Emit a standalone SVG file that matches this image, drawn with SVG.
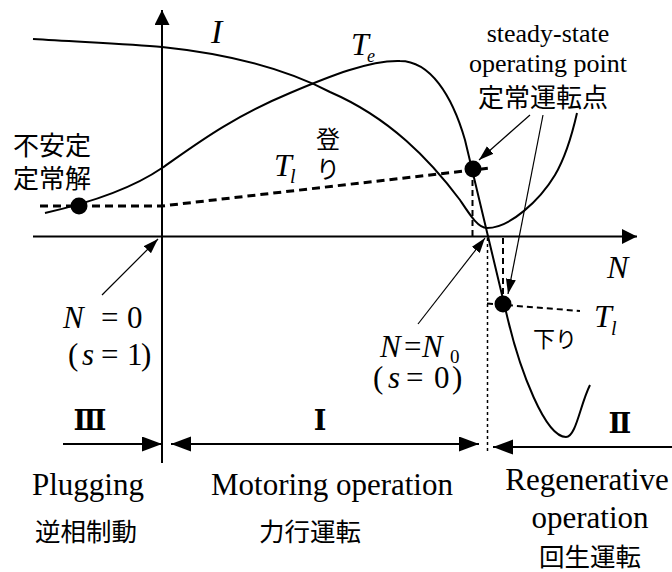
<svg xmlns="http://www.w3.org/2000/svg" width="672" height="572" viewBox="0 0 672 572">
<defs>
<style>
.ser{font-family:"Liberation Serif","Times New Roman",serif;fill:#000}
.it{font-style:italic}
.jp{font-family:"Noto Sans CJK JP","Noto Sans CJK SC",sans-serif;fill:#000}
.rn{font-family:"DejaVu Serif","Liberation Serif",serif;fill:#000;font-weight:bold}
.curve{fill:none;stroke:#000;stroke-width:2}
.axis{fill:none;stroke:#000;stroke-width:2}
.thin{fill:none;stroke:#000;stroke-width:1.2}
.dash3{fill:none;stroke:#000;stroke-width:3;stroke-dasharray:8 5}
.dash2{fill:none;stroke:#000;stroke-width:2;stroke-dasharray:6 4}
.dotl{fill:none;stroke:#000;stroke-width:1.5;stroke-dasharray:3 3}
.pt{fill:#000}
</style>
<marker id="ah" markerUnits="userSpaceOnUse" markerWidth="16" markerHeight="12" refX="15" refY="5" orient="auto"><path d="M0,0 L15,5 L0,10 z"/></marker>
<marker id="ax" markerUnits="userSpaceOnUse" markerWidth="16" markerHeight="16" refX="15" refY="7.5" orient="auto"><path d="M0,0 L15,7.5 L0,15 z"/></marker>
<marker id="big" markerUnits="userSpaceOnUse" markerWidth="21" markerHeight="16" refX="20" refY="7.5" orient="auto-start-reverse"><path d="M0,0 L20,7.5 L0,15 z"/></marker>
</defs>
<rect width="672" height="572" fill="#fff"/>

<g id="axes">
<line class="axis" x1="162" y1="463" x2="162" y2="10" marker-end="url(#ax)"/>
<line class="axis" x1="33" y1="236.5" x2="637" y2="236.5" marker-end="url(#ax)"/>
</g>

<g id="curves">
<path id="curve-I" class="curve" d="M33,39 C80,42 130,44 162,47 C220,53 280,66 330,92 C390,118 430,160 460,200 C470,215 478,228 487,228 C510,228 540,200 555,175 C565,158 572,135 577,113"/>
<path id="curve-Te" class="curve" d="M45,213 C80,205 130,190 162,168 C195,145 230,118 290,93 C330,76 370,60 400,61 C430,61 452,95 465,140 L508,320 C520,370 545,437 566,437 C576,437 580,405 590,385"/>
<path id="load-up" class="dash3" d="M40,206 L162,206 L490,168"/>
<path id="load-down" class="dash2" d="M487,303.5 L580,311"/>
<line class="dash2" x1="472.5" y1="170" x2="472.5" y2="236"/>
<line class="dash2" x1="503" y1="238" x2="503" y2="303"/>
<line class="dotl" x1="487.5" y1="238" x2="487.5" y2="452"/>
<circle class="pt" cx="79" cy="206" r="8.5"/>
<circle class="pt" cx="473" cy="169" r="8.5"/>
<circle class="pt" cx="503" cy="304" r="8.5"/>
</g>

<g id="connectors">
<line class="thin" x1="530" y1="115" x2="479" y2="160" marker-end="url(#ah)"/>
<line class="thin" x1="543" y1="115" x2="508" y2="294" marker-end="url(#ah)"/>
<line class="thin" x1="418" y1="324" x2="485" y2="238" marker-end="url(#ah)"/>
<line class="thin" x1="102" y1="295" x2="158" y2="239" marker-end="url(#ah)"/>
<line class="axis" x1="63" y1="444" x2="162" y2="444" marker-end="url(#big)"/>
<line class="axis" x1="171" y1="444" x2="479" y2="444" marker-start="url(#big)" marker-end="url(#big)"/>
<line class="axis" x1="672" y1="447" x2="493" y2="447" marker-end="url(#big)"/>
</g>

<g id="label-I"><text class="ser it" x="211" y="43" font-size="34">I</text></g>
<g id="label-Te"><text class="ser it" font-size="32"><tspan x="351" y="55">T</tspan><tspan x="367" y="62" font-size="18">e</tspan></text></g>
<g id="label-Tl-up"><text class="ser it" font-size="32"><tspan x="274" y="176">T</tspan><tspan x="290" y="183" font-size="20">l</tspan></text></g>
<g id="label-Tl-down"><text class="ser it" font-size="32"><tspan x="594" y="327">T</tspan><tspan x="611" y="335" font-size="20">l</tspan></text></g>
<g id="label-N"><text class="ser it" x="607" y="278" font-size="32">N</text></g>

<g id="label-unstable">
<text class="jp" x="13" y="155" font-size="26">不安定</text>
<text class="jp" x="13" y="188" font-size="26">定常解</text>
</g>
<g id="label-up"><text class="jp" x="328" y="148" font-size="24" text-anchor="middle">登</text><text class="jp" x="328" y="178" font-size="24" text-anchor="middle">り</text></g>
<g id="label-down"><text class="jp" x="533" y="347" font-size="22">下り</text></g>

<g id="label-steady">
<text class="ser" x="548" y="42" font-size="26" text-anchor="middle">steady-state</text>
<text class="ser" x="548" y="72" font-size="26" text-anchor="middle">operating point</text>
<text class="jp" x="543" y="107" font-size="26" text-anchor="middle">定常運転点</text>
</g>

<g id="label-N0">
<text class="ser" font-size="31"><tspan x="63" y="328" font-style="italic">N</tspan><tspan x="101" y="328">=</tspan><tspan x="127" y="328">0</tspan></text>
<text class="ser" font-size="31"><tspan x="68" y="365">(</tspan><tspan x="82" y="365" font-style="italic">s</tspan><tspan x="101" y="365">=</tspan><tspan x="127" y="365">1</tspan><tspan x="141" y="365">)</tspan></text>
</g>

<g id="label-NN0">
<text class="ser" font-size="31"><tspan x="380" y="357" font-style="italic">N</tspan><tspan x="404" y="357">=</tspan><tspan x="422" y="357" font-style="italic">N</tspan><tspan x="450" y="363" font-size="19">0</tspan></text>
<text class="ser" font-size="31"><tspan x="373" y="388">(</tspan><tspan x="388" y="388" font-style="italic">s</tspan><tspan x="406" y="388">=</tspan><tspan x="434" y="388">0</tspan><tspan x="452" y="388">)</tspan></text>
</g>

<g id="region-III">
<text class="rn" x="90" y="430" font-size="27" text-anchor="middle">Ⅲ</text>
<text class="ser" x="88" y="495" font-size="31" text-anchor="middle">Plugging</text>
<text class="jp" x="86" y="541" font-size="25.5" text-anchor="middle">逆相制動</text>
</g>
<g id="region-I">
<text class="rn" x="320" y="430" font-size="27" text-anchor="middle">Ⅰ</text>
<text class="ser" x="332" y="495" font-size="31" text-anchor="middle">Motoring operation</text>
<text class="jp" x="310" y="541" font-size="25.5" text-anchor="middle">力行運転</text>
</g>
<g id="region-II">
<text class="rn" x="620" y="433" font-size="27" text-anchor="middle">Ⅱ</text>
<text class="ser" x="587" y="490" font-size="31" text-anchor="middle">Regenerative</text>
<text class="ser" x="590" y="528" font-size="31" text-anchor="middle">operation</text>
<text class="jp" x="590" y="566" font-size="25.5" text-anchor="middle">回生運転</text>
</g>
</svg>
